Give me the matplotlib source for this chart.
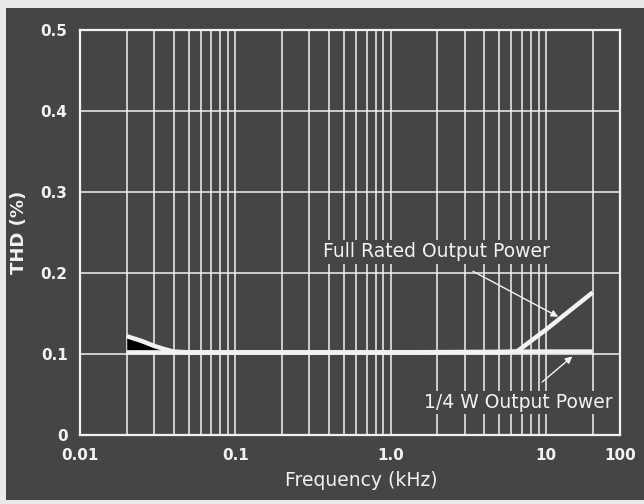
import matplotlib
matplotlib.use("Agg")
import matplotlib.pyplot as plt
from matplotlib.ticker import LogLocator, NullFormatter
from matplotlib.patches import Rectangle
import numpy as np

# ---- data ----
full_freq = [0.02, 0.025, 0.03, 0.035, 0.04, 0.05, 0.1, 1.0, 5.0, 6.5, 10.0, 20.0]
full_thd = [0.122, 0.116, 0.110, 0.106, 0.103, 0.102, 0.102, 0.102, 0.102, 0.103, 0.130, 0.176]

quarter_freq = [0.02, 0.03, 0.04, 0.1, 1.0, 10.0, 20.0]
quarter_thd = [0.102, 0.102, 0.102, 0.102, 0.102, 0.103, 0.103]

x_tick_values = [0.01, 0.1, 1.0, 10.0, 30.0]
x_tick_labels = ["0.01", "0.1", "1.0", "10", "100"]
y_tick_values = [0.0, 0.1, 0.2, 0.3, 0.4, 0.5]
y_tick_labels = ["0", "0.1", "0.2", "0.3", "0.4", "0.5"]

BG = "#454545"
FG = "#f2f2f2"
FONT = "DejaVu Sans"

fig = plt.figure(figsize=(6.44, 5.04), dpi=100, facecolor="#e9e9e9")
bgrect = Rectangle((6 / 644, 4 / 504), 1 - 6 / 644, (500 - 8) / 504,
                   transform=fig.transFigure, facecolor=BG,
                   edgecolor="none", zorder=-5)
fig.add_artist(bgrect)

ax = fig.add_axes([80 / 644, 1 - 435 / 504, 540 / 644, 405 / 504])
ax.set_facecolor(BG)
ax.set_xscale("log")
ax.set_xlim(0.01, 30)
ax.set_ylim(0, 0.5)

ax.set_xticks(x_tick_values, x_tick_labels)
ax.xaxis.set_minor_locator(LogLocator(base=10, subs=np.arange(2, 10)))
ax.xaxis.set_minor_formatter(NullFormatter())
ax.set_yticks(y_tick_values, y_tick_labels)

ax.grid(True, which="both", axis="x", color=FG, lw=1.1)
ax.grid(True, which="major", axis="y", color=FG, lw=1.1)
ax.set_axisbelow(True)

for s in ax.spines.values():
    s.set_color(FG)
    s.set_linewidth(1.6)

ax.tick_params(which="both", length=0, colors=FG)
ax.tick_params(axis="x", pad=9)
ax.tick_params(axis="y", pad=9)
for lab in ax.get_xticklabels() + ax.get_yticklabels():
    lab.set_fontfamily(FONT)
    lab.set_fontweight("bold")
    lab.set_fontsize(11)
    lab.set_color(FG)

# black wedge between the two curves at the low-frequency end
ff = np.array(full_freq)
ft = np.array(full_thd)
qt = np.interp(np.log10(ff), np.log10(quarter_freq), quarter_thd)
ax.fill_between(ff, qt, ft, where=ff <= 0.04, color="black", zorder=3, lw=0)

ax.plot(full_freq, full_thd, color=FG, lw=3.2, solid_capstyle="butt", zorder=4)
ax.plot(quarter_freq, quarter_thd, color=FG, lw=3.2, solid_capstyle="butt", zorder=4)

box = dict(facecolor=BG, edgecolor="none", pad=1.5)
ax.annotate("Full Rated Output Power", xy=(12.0, 0.146), xytext=(1.98, 0.226),
            ha="center", va="center", color=FG, fontsize=13.5, family=FONT,
            bbox=box, zorder=6,
            arrowprops=dict(arrowstyle="-|>", color=FG, lw=1.0,
                            mutation_scale=10, shrinkA=12, shrinkB=0))
ax.annotate("1/4 W Output Power", xy=(14.8, 0.097), xytext=(6.6, 0.040),
            ha="center", va="center", color=FG, fontsize=13.5, family=FONT,
            bbox=box, zorder=6,
            arrowprops=dict(arrowstyle="-|>", color=FG, lw=1.0,
                            mutation_scale=10, shrinkA=10, shrinkB=0))

ax.set_xlabel("Frequency (kHz)", color=FG, fontsize=13.5, family=FONT,
              labelpad=6, x=0.52)
ax.set_ylabel("THD (%)", color=FG, fontsize=13, family=FONT,
              fontweight="bold", labelpad=9)

fig.savefig("out.png", dpi=100, facecolor=fig.get_facecolor())
